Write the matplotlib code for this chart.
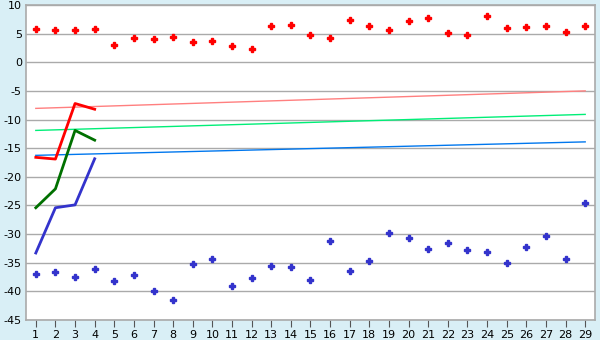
import matplotlib
matplotlib.use("Agg")
import matplotlib.pyplot as plt

plt.rcParams['font.family'] = ['DejaVu Sans']
plt.rcParams['axes.unicode_minus'] = False

# categories 1..29
cats = list(range(1, 30))

# scatter series
red_pts = [5.76, 5.58, 5.58, 5.76, 2.96, 4.18, 4.0, 4.35, 3.48, 3.66,
           2.79, 2.26, 6.28, 6.45, 4.7, 4.18, 7.32, 6.28, 5.58, 7.15,
           7.67, 5.05, 4.7, 8.02, 5.93, 6.1, 6.28, 5.23, 6.28]
blue_pts = [-37.03, -36.68, -37.55, -36.16, -38.25, -37.2, -40.0, -41.57, -35.28, -34.4,
            -39.12, -37.73, -35.63, -35.8, -38.08, -31.27, -36.5, -34.76, -29.87, -30.74,
            -32.66, -31.61, -32.84, -33.19, -35.11, -32.31, -30.39, -34.4, -24.63]

# short line series (first 4 categories)
line_x = [1, 2, 3, 4]
red_line = [-16.6, -16.9, -7.2, -8.2]
green_line = [-25.4, -22.1, -11.9, -13.6]
blue_line = [-33.3, -25.4, -24.9, -16.85]

# trend lines (start / end)
trend_x = [1, 29]
red_trend = [-8.05, -5.0]
green_trend = [-11.9, -9.1]
blue_trend = [-16.25, -13.9]

bg = '#d9eff6'
fig = plt.figure(figsize=(6, 3.4), dpi=100, facecolor=bg)
ax = fig.add_axes([26/600, 1 - 320/340, 569/600, 315/340])
ax.set_facecolor('white')

ax.plot(trend_x, red_trend, color='#ff7f7f', lw=1, zorder=2)
ax.plot(trend_x, green_trend, color='#00ee77', lw=1, zorder=2)
ax.plot(trend_x, blue_trend, color='#0077ee', lw=1, zorder=2)

ax.plot(line_x, red_line, color='#ff0000', lw=2, zorder=3)
ax.plot(line_x, green_line, color='#007000', lw=2, zorder=3)
ax.plot(line_x, blue_line, color='#3333cc', lw=2, zorder=3)

ax.plot(cats, red_pts, ls='none', marker='P', ms=4.5, color='#ff0000', mec='#ff0000', zorder=4)
ax.plot(cats, blue_pts, ls='none', marker='P', ms=4.5, color='#3333cc', mec='#3333cc', zorder=4)

ax.set_xlim(0.5, 29.5)
ax.set_ylim(-45, 10)
ax.set_xticks(cats)
ax.set_yticks(range(-45, 11, 5))
ax.grid(axis='y', color='#aaaaaa', lw=1, zorder=1)
ax.tick_params(axis='x', length=5, color='#555555', labelsize=8, pad=2)
ax.tick_params(axis='y', length=0, labelsize=8, pad=3)
for s in ax.spines.values():
    s.set_color('#aaaaaa')
    s.set_linewidth(1.2)

fig.savefig('out.png', dpi=100, facecolor=bg)
